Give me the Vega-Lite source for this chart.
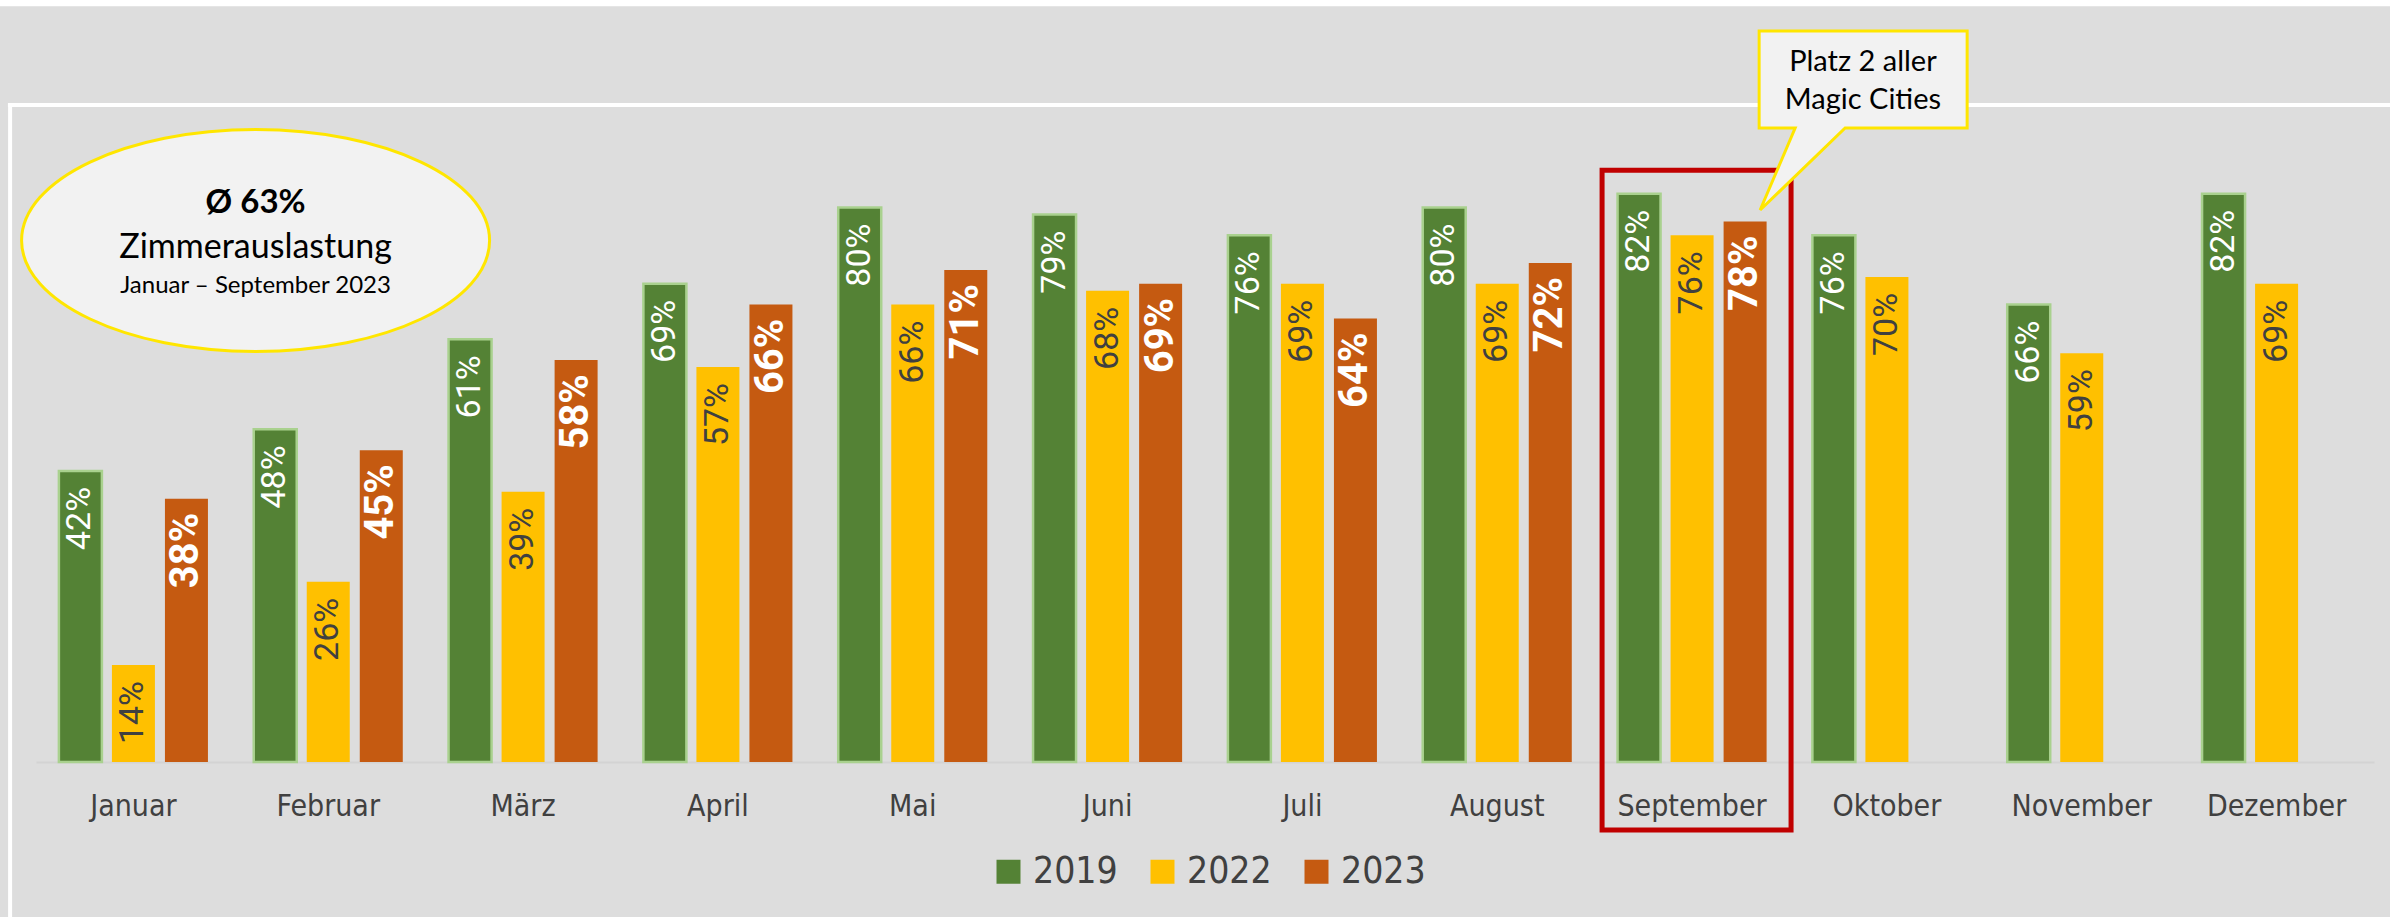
{
  "$schema": "https://vega.github.io/schema/vega-lite/v6.json",
  "width": 2338,
  "height": 693,
  "autosize": {"type": "none"},
  "padding": {"left": 36, "top": 69, "right": 16, "bottom": 155},
  "background": "#DDDDDD",
  "config": {"view": {"stroke": null}},
  "datasets": {
    "bars": [
      {"month": "Januar", "year": "2019", "value": 0.42},
      {"month": "Januar", "year": "2022", "value": 0.14},
      {"month": "Januar", "year": "2023", "value": 0.38},
      {"month": "Februar", "year": "2019", "value": 0.48},
      {"month": "Februar", "year": "2022", "value": 0.26},
      {"month": "Februar", "year": "2023", "value": 0.45},
      {"month": "März", "year": "2019", "value": 0.61},
      {"month": "März", "year": "2022", "value": 0.39},
      {"month": "März", "year": "2023", "value": 0.58},
      {"month": "April", "year": "2019", "value": 0.69},
      {"month": "April", "year": "2022", "value": 0.57},
      {"month": "April", "year": "2023", "value": 0.66},
      {"month": "Mai", "year": "2019", "value": 0.80},
      {"month": "Mai", "year": "2022", "value": 0.66},
      {"month": "Mai", "year": "2023", "value": 0.71},
      {"month": "Juni", "year": "2019", "value": 0.79},
      {"month": "Juni", "year": "2022", "value": 0.68},
      {"month": "Juni", "year": "2023", "value": 0.69},
      {"month": "Juli", "year": "2019", "value": 0.76},
      {"month": "Juli", "year": "2022", "value": 0.69},
      {"month": "Juli", "year": "2023", "value": 0.64},
      {"month": "August", "year": "2019", "value": 0.80},
      {"month": "August", "year": "2022", "value": 0.69},
      {"month": "August", "year": "2023", "value": 0.72},
      {"month": "September", "year": "2019", "value": 0.82},
      {"month": "September", "year": "2022", "value": 0.76},
      {"month": "September", "year": "2023", "value": 0.78},
      {"month": "Oktober", "year": "2019", "value": 0.76},
      {"month": "Oktober", "year": "2022", "value": 0.70},
      {"month": "November", "year": "2019", "value": 0.66},
      {"month": "November", "year": "2022", "value": 0.59},
      {"month": "Dezember", "year": "2019", "value": 0.82},
      {"month": "Dezember", "year": "2022", "value": 0.69}
    ]
  },
  "resolve": {"scale": {"x": "independent"}, "axis": {"x": "independent"}},
  "layer": [
    {
      "data": {"values": [{}]},
      "layer": [
        {
          "mark": {"type": "rect", "fill": "#FFFFFF"},
          "encoding": {
            "x": {"datum": -0.3, "type": "quantitative", "scale": {"domain": [0, 12], "nice": false, "zero": false}, "axis": null},
            "x2": {"datum": 12.3},
            "y": {"datum": 1.0905, "type": "quantitative", "scale": {"domain": [0, 1], "nice": false, "zero": false}, "axis": null},
            "y2": {"datum": 1.2}
          }
        },
        {
          "mark": {"type": "rule", "stroke": "#FFFFFF", "strokeWidth": 4},
          "encoding": {
            "x": {"datum": -0.144, "type": "quantitative", "scale": {"domain": [0, 12], "nice": false, "zero": false}, "axis": null},
            "x2": {"datum": 12.3},
            "y": {"datum": 0.948, "type": "quantitative", "scale": {"domain": [0, 1], "nice": false, "zero": false}, "axis": null},
            "y2": {"datum": 0.948}
          }
        },
        {
          "mark": {"type": "rule", "stroke": "#FFFFFF", "strokeWidth": 4},
          "encoding": {
            "x": {"datum": -0.133, "type": "quantitative", "scale": {"domain": [0, 12], "nice": false, "zero": false}, "axis": null},
            "x2": {"datum": -0.133},
            "y": {"datum": 0.951, "type": "quantitative", "scale": {"domain": [0, 1], "nice": false, "zero": false}, "axis": null},
            "y2": {"datum": -0.3}
          }
        }
      ]
    },
    {
      "data": {"name": "bars"},
      "encoding": {
        "x": {
          "field": "month", "type": "nominal",
          "sort": ["Januar", "Februar", "März", "April", "Mai", "Juni", "Juli", "August", "September", "Oktober", "November", "Dezember"],
          "scale": {"paddingInner": 0.235, "paddingOuter": 0.1175},
          "axis": {
            "title": null, "labelAngle": 0, "ticks": false,
            "domainColor": "#D3D3D3", "domainWidth": 2,
            "labelFont": "DejaVu Sans Condensed, Liberation Sans Narrow, sans-serif",
            "labelFontSize": 30, "labelColor": "#404040",
            "labelPadding": 53, "labelBaseline": "alphabetic"
          }
        },
        "xOffset": {"field": "year", "type": "nominal", "scale": {"domain": ["2019", "2022", "2023"], "paddingInner": 0.189, "paddingOuter": 0}},
        "y": {"field": "value", "type": "quantitative", "scale": {"domain": [0, 1], "nice": false, "zero": false}, "axis": null}
      },
      "layer": [
        {
          "mark": {"type": "bar", "strokeWidth": 2.5},
          "encoding": {
            "color": {
              "field": "year", "type": "nominal",
              "scale": {"domain": ["2019", "2022", "2023"], "range": ["#548235", "#FFC000", "#C55A11"]},
              "legend": {
                "orient": "none", "legendX": 954, "legendY": 784,
                "direction": "horizontal", "title": null,
                "symbolType": "square", "symbolSize": 576,
                "labelFont": "DejaVu Sans Condensed, Liberation Sans Narrow, sans-serif",
                "labelFontSize": 37, "labelColor": "#404040",
                "labelOffset": 6, "columnPadding": 26, "padding": 0,
                "symbolOpacity": 1,
                "symbolStrokeWidth": 2.5,
                "encode": {
                  "symbols": {
                    "update": {
                      "stroke": {"signal": "datum.value === '2019' ? '#A9D18E' : 'transparent'"}
                    }
                  }
                }
              }
            },
            "stroke": {"condition": {"test": "datum.year === '2019'", "value": "#A9D18E"}, "value": null}
          }
        },
        {
          "transform": [{"filter": "datum.year !== '2023'"}],
          "mark": {"type": "text", "angle": 270, "align": "right", "baseline": "middle", "dx": -16, "font": "Roboto", "fontSize": 34},
          "encoding": {
            "text": {"field": "value", "type": "quantitative", "format": ".0%"},
            "color": {"condition": {"test": "datum.year === '2019'", "value": "#FFFFFF"}, "value": "#404040"}
          }
        },
        {
          "transform": [{"filter": "datum.year === '2023'"}],
          "mark": {"type": "text", "angle": 270, "align": "right", "baseline": "middle", "dx": -14, "font": "Roboto", "fontSize": 40, "fontWeight": "bold", "color": "#FFFFFF"},
          "encoding": {
            "text": {"field": "value", "type": "quantitative", "format": ".0%"}
          }
        }
      ]
    },
    {
      "data": {"values": [{}]},
      "layer": [
        {
          "mark": {"type": "rect", "fill": "transparent", "stroke": "#C00000", "strokeWidth": 5},
          "encoding": {
            "x": {"datum": 8.038, "type": "quantitative", "scale": {"domain": [0, 12], "nice": false, "zero": false}, "axis": null},
            "x2": {"datum": 9.008},
            "y": {"datum": 0.854, "type": "quantitative", "scale": {"domain": [0, 1], "nice": false, "zero": false}, "axis": null},
            "y2": {"datum": -0.098}
          }
        },
        {
          "mark": {"type": "point", "shape": "M-234,0A234,111,0,1,1,234,0A234,111,0,1,1,-234,0Z", "size": 4, "filled": true, "fill": "#F2F2F2", "stroke": "#FFE600", "strokeWidth": 3, "opacity": 1},
          "encoding": {
            "x": {"datum": 1.127, "type": "quantitative", "scale": {"domain": [0, 12], "nice": false, "zero": false}, "axis": null},
            "y": {"datum": 0.7525, "type": "quantitative", "scale": {"domain": [0, 1], "nice": false, "zero": false}, "axis": null}
          }
        },
        {
          "mark": {"type": "point", "shape": "M-104,-48.5L104,-48.5L104,48.5L-18,48.5L-103,130.5L-68,48.5L-104,48.5Z", "size": 4, "filled": true, "fill": "#F2F2F2", "stroke": "#FFE600", "strokeWidth": 3, "opacity": 1},
          "encoding": {
            "x": {"datum": 9.378, "type": "quantitative", "scale": {"domain": [0, 12], "nice": false, "zero": false}, "axis": null},
            "y": {"datum": 0.9848, "type": "quantitative", "scale": {"domain": [0, 1], "nice": false, "zero": false}, "axis": null}
          }
        },
        {
          "data": {"values": [{"label": "Ø 63%"}]},
          "mark": {"type": "text", "font": "Lato", "fontSize": 33, "fontWeight": "bold", "color": "#000000", "align": "center", "baseline": "alphabetic"},
          "encoding": {
            "text": {"field": "label"},
            "x": {"datum": 1.127, "type": "quantitative", "scale": {"domain": [0, 12], "nice": false, "zero": false}, "axis": null},
            "y": {"datum": 0.7922, "type": "quantitative", "scale": {"domain": [0, 1], "nice": false, "zero": false}, "axis": null}
          }
        },
        {
          "data": {"values": [{"label": "Zimmerauslastung"}]},
          "mark": {"type": "text", "font": "Lato", "fontSize": 34, "color": "#000000", "align": "center", "baseline": "alphabetic"},
          "encoding": {
            "text": {"field": "label"},
            "x": {"datum": 1.127, "type": "quantitative", "scale": {"domain": [0, 12], "nice": false, "zero": false}, "axis": null},
            "y": {"datum": 0.7273, "type": "quantitative", "scale": {"domain": [0, 1], "nice": false, "zero": false}, "axis": null}
          }
        },
        {
          "data": {"values": [{"label": "Januar – September 2023"}]},
          "mark": {"type": "text", "font": "Lato", "fontSize": 24, "color": "#000000", "align": "center", "baseline": "alphabetic"},
          "encoding": {
            "text": {"field": "label"},
            "x": {"datum": 1.127, "type": "quantitative", "scale": {"domain": [0, 12], "nice": false, "zero": false}, "axis": null},
            "y": {"datum": 0.6768, "type": "quantitative", "scale": {"domain": [0, 1], "nice": false, "zero": false}, "axis": null}
          }
        },
        {
          "data": {"values": [{"label": "Platz 2 aller"}]},
          "mark": {"type": "text", "font": "Lato", "fontSize": 29, "color": "#000000", "align": "center", "baseline": "alphabetic"},
          "encoding": {
            "text": {"field": "label"},
            "x": {"datum": 9.377, "type": "quantitative", "scale": {"domain": [0, 12], "nice": false, "zero": false}, "axis": null},
            "y": {"datum": 0.9971, "type": "quantitative", "scale": {"domain": [0, 1], "nice": false, "zero": false}, "axis": null}
          }
        },
        {
          "data": {"values": [{"label": "Magic Cities"}]},
          "mark": {"type": "text", "font": "Lato", "fontSize": 29, "color": "#000000", "align": "center", "baseline": "alphabetic"},
          "encoding": {
            "text": {"field": "label"},
            "x": {"datum": 9.377, "type": "quantitative", "scale": {"domain": [0, 12], "nice": false, "zero": false}, "axis": null},
            "y": {"datum": 0.9423, "type": "quantitative", "scale": {"domain": [0, 1], "nice": false, "zero": false}, "axis": null}
          }
        }
      ]
    }
  ]
}
